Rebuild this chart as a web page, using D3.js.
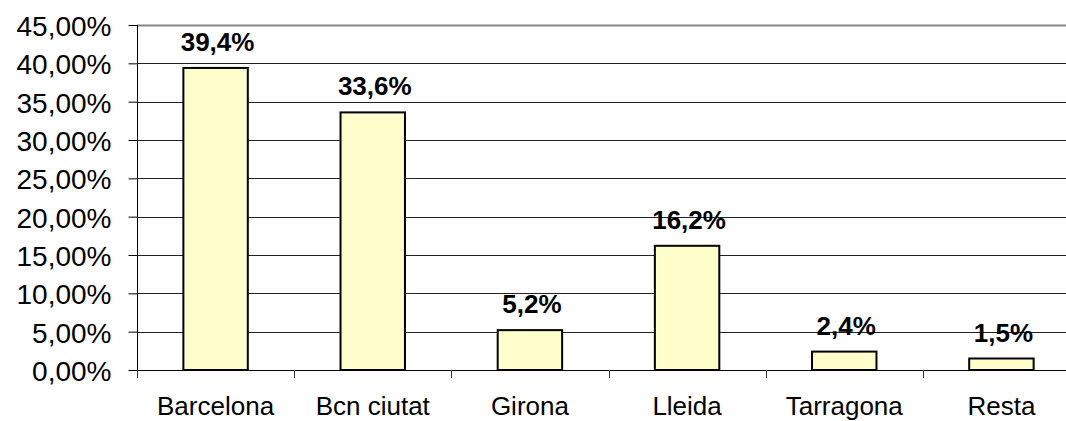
<!DOCTYPE html>
<meta charset="utf-8">
<style>
  body {
    margin: 0;
    background-color: white;
    overflow: hidden;
  }

  svg {
    display: block;
    font-family: "Liberation Sans", Arial, sans-serif;
  }

  .ylab {
    font-size: 28px;
  }

  .xlab {
    font-size: 26px;
  }

  .val {
    font-size: 26px;
    font-weight: bold;
  }
</style>

<body>
  <script src="https://d3js.org/d3.v7.min.js"></script>
  <div id="chart"></div>
  <script>

    // data
    var categories = ["Barcelona", "Bcn ciutat", "Girona", "Lleida", "Tarragona", "Resta"];
    var shares = [0.394, 0.336, 0.052, 0.162, 0.024, 0.015];
    var yTicks = [0, 0.05, 0.10, 0.15, 0.20, 0.25, 0.30, 0.35, 0.40, 0.45];

    // page is 1066 x 421, the plot runs off the right side like the original
    var W = 1066, H = 421;
    var plotL = 137, plotT = 25, plotB = 370, plotR = 1080;

    var svg = d3.select("#chart")
      .append("svg")
      .attr("width", W)
      .attr("height", H);

    var x = d3.scaleBand()
      .domain(categories)
      .range([plotL, plotR])
      .padding(0);

    var y = d3.scaleLinear()
      .domain([0, 0.45])
      .range([plotB, plotT]);

    // comma decimals, catalan style
    var fmtAxis = function (v) { return (v * 100).toFixed(2).replace(".", ",") + "%"; };
    var fmtVal = function (v) { return (v * 100).toFixed(1).replace(".", ",") + "%"; };

    // gridlines
    svg.append("g")
      .selectAll("line")
      .data(yTicks.filter(function (d) { return d > 0 && d < 0.45; }))
      .enter().append("line")
      .attr("x1", plotL)
      .attr("x2", plotR)
      .attr("y1", function (d) { return Math.round(y(d)) + 0.5; })
      .attr("y2", function (d) { return Math.round(y(d)) + 0.5; })
      .attr("stroke", "#222")
      .attr("stroke-width", 1);

    // top border of the plot area
    svg.append("line")
      .attr("x1", plotL)
      .attr("x2", plotR)
      .attr("y1", Math.round(y(0.45)) + 0.5)
      .attr("y2", Math.round(y(0.45)) + 0.5)
      .attr("stroke", "#888")
      .attr("stroke-width", 2);

    // y axis
    var yAxis = svg.append("g")
      .attr("transform", "translate(" + (plotL + 0.5) + ",0)")
      .call(d3.axisLeft(y).tickValues(yTicks).tickSize(9).tickSizeOuter(0).tickFormat(fmtAxis));
    yAxis.attr("font-family", null).attr("font-size", null);
    yAxis.select(".domain").remove();
    yAxis.selectAll(".tick line").attr("stroke", "#000");
    yAxis.selectAll(".tick text")
      .attr("class", "ylab")
      .attr("x", -26)
      .attr("dy", "0.38em")
      .attr("fill", "#000");

    svg.append("line")
      .attr("x1", plotL + 0.5)
      .attr("x2", plotL + 0.5)
      .attr("y1", plotT)
      .attr("y2", plotB + 8)
      .attr("stroke", "#000");

    // x axis: ticks between the categories
    var bounds = categories.map(function (c) { return x(c); }).concat([plotR]);
    svg.append("line")
      .attr("x1", plotL)
      .attr("x2", plotR)
      .attr("y1", plotB + 0.5)
      .attr("y2", plotB + 0.5)
      .attr("stroke", "#000");
    svg.append("g")
      .selectAll("line")
      .data(bounds)
      .enter().append("line")
      .attr("x1", function (d) { return Math.round(d) + 0.5; })
      .attr("x2", function (d) { return Math.round(d) + 0.5; })
      .attr("y1", plotB)
      .attr("y2", plotB + 8)
      .attr("stroke", "#333");

    svg.append("g")
      .selectAll("text")
      .data(categories)
      .enter().append("text")
      .attr("class", "xlab")
      .attr("x", function (d) { return x(d) + x.bandwidth() / 2; })
      .attr("y", 415)
      .attr("text-anchor", "middle")
      .text(function (d) { return d; });

    // bars
    var barW = x.bandwidth() * 0.41;
    svg.append("g")
      .selectAll("rect")
      .data(shares)
      .enter().append("rect")
      .attr("x", function (d, i) { return x(categories[i]) + x.bandwidth() / 2 - barW / 2; })
      .attr("y", function (d) { return y(d); })
      .attr("width", barW)
      .attr("height", function (d) { return plotB - y(d); })
      .attr("fill", "#FFFFCC")
      .attr("stroke", "#000")
      .attr("stroke-width", 2);

    // value labels
    svg.append("g")
      .selectAll("text")
      .data(shares)
      .enter().append("text")
      .attr("class", "val")
      .attr("x", function (d, i) { return x(categories[i]) + x.bandwidth() / 2 + 2; })
      .attr("y", function (d) { return y(d) - 17; })
      .attr("text-anchor", "middle")
      .text(fmtVal);

  </script>
</body>
